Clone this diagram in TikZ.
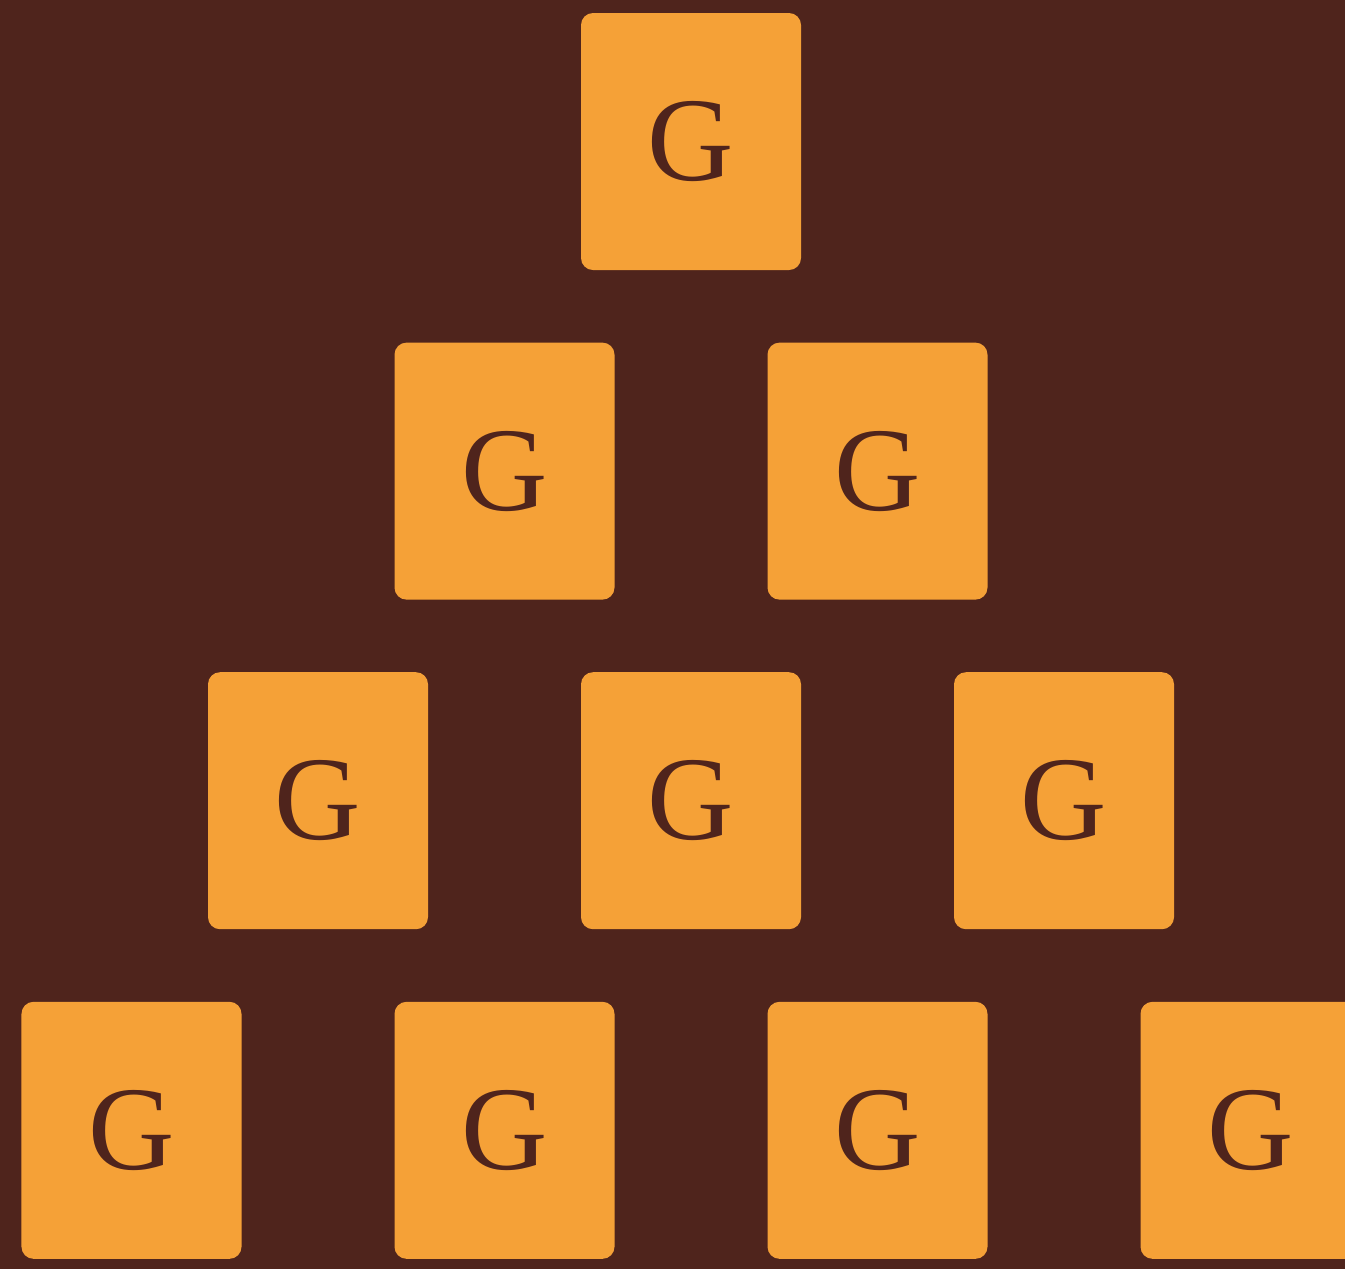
\documentclass[tikz,border=0pt]{standalone}
\usepackage{fontspec}
\setmainfont{Liberation Serif}
\definecolor{bgbrown}{HTML}{4F241C}
\definecolor{tileorange}{HTML}{F5A137}
\tikzset{
	tile/.style={fill=tileorange, rounded corners=0.12cm, minimum width=2.2cm, minimum height=2.57cm, inner sep=0pt, text=bgbrown, font=\fontsize{34}{34}\selectfont}
}
\begin{document}
\begin{tikzpicture}
			\useasboundingbox (0,0) rectangle (13.45,-12.69);
			\clip (0,0) rectangle (13.45,-12.69);
			\fill[bgbrown] (0,0) rectangle (13.45,-12.69);
			% rows of the pyramid, top to bottom
			\foreach \r in {1, 2, 3, 4}
			\foreach \c in {1, ..., \r}
			\node[tile] (g-\r-\c) at ({6.91 + (2*\c - \r - 1)*1.865}, {-1.415 - (\r - 1)*3.296}) {G};
		\end{tikzpicture}
\end{document}
